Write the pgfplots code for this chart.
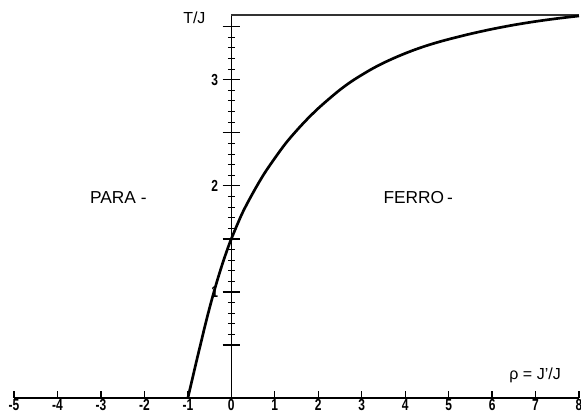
\documentclass[border=0pt]{standalone}
\usepackage{pgfplots}
\pgfplotsset{compat=1.18}
\usepackage{fontspec}
\setmainfont{Liberation Sans}
\newfontfamily\tickfont{Liberation Sans Bold}[FakeStretch=0.75]
\newcommand\tl[1]{{\tickfont\fontsize{12}{14}\selectfont #1}}

\begin{document}
\begin{tikzpicture}
\begin{axis}[
    scale only axis,
    width=424pt, height=287.5pt,
    xmin=-5, xmax=8,
    ymin=0, ymax=3.61,
    axis lines=middle,
    axis line style={-, line width=1.1pt},
    xtick=\empty,
    extra x ticks={-5,-4,-3,-2,-1,0,1,2,3,4,5,6,7,8},
    extra x tick labels={\tl{-5},\tl{-4},\tl{-3},\tl{-2},\tl{-1},\tl{0},\tl{1},
        \tl{2},\tl{3},\tl{4},\tl{5},\tl{6},\tl{7},\tl{8}},
    extra tick style={major tick length=5pt, tick align=inside,
        major tick style={line width=0.9pt}},
    x tick label style={inner sep=0.5pt},
    ytick={0.5,1,1.5,2,2.5,3,3.5},
    yticklabels={,\tl{1},,\tl{2},,\tl{3},},
    minor y tick num=4,
    major tick length=13pt,
    minor tick length=5pt,
    tick align=center,
    major tick style={line width=0.9pt, black},
    minor tick style={line width=0.7pt, black},
    /pgf/number format/assume math mode=true,
    clip=false,
]
\addplot[line width=0.8pt, black!80] coordinates {(0,3.61) (8,3.61)};
\addplot[smooth, line width=2pt, black] coordinates {
    (-1,0) (-0.9,0.175) (-0.8,0.35) (-0.7,0.52) (-0.6,0.69) (-0.5,0.85)
    (-0.4,1.0) (-0.3,1.14) (-0.2,1.27) (-0.1,1.39) (0,1.5) (0.25,1.74)
    (0.5,1.935) (0.75,2.11) (1.0,2.26) (1.25,2.40) (1.5,2.52) (1.75,2.63)
    (2.0,2.73) (2.25,2.82) (2.5,2.905) (2.75,2.98) (3.0,3.045) (3.25,3.105)
    (3.5,3.158) (3.75,3.205) (4.0,3.248) (4.25,3.287) (4.5,3.322)
    (4.75,3.353) (5.0,3.381) (5.5,3.432) (6.0,3.477) (6.5,3.516)
    (7.0,3.549) (7.5,3.577) (8.0,3.601)
};
\node[font=\large] at (axis cs:-0.85,3.58) {T/J};
\node[font=\fontsize{13}{15}\selectfont] at (axis cs:-2.6,1.89) {PARA -};
\node[font=\fontsize{13}{15}\selectfont] at (axis cs:4.3,1.89) {FERRO\,-};
\node[font=\large] at (axis cs:6.99,0.21) {ρ = J'/J};
\coordinate (ll) at (axis cs:-5,0);
\coordinate (ur) at (axis cs:8,3.61);
\end{axis}
\pgfresetboundingbox
\path ([shift={(-10.5pt,-11pt)}]ll) rectangle ([shift={(1.5pt,11.25pt)}]ur);
\end{tikzpicture}
\end{document}
